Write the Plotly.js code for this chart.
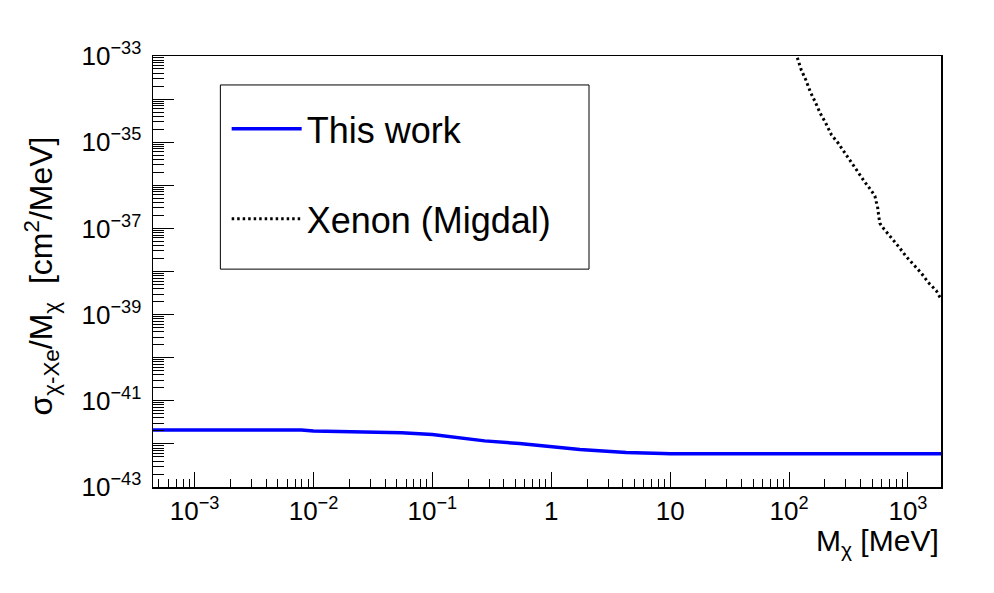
<!DOCTYPE html>
<html>
<head>
<meta charset="utf-8">
<script src="https://cdn.plot.ly/plotly-3.0.1.min.js"></script>
<style>html,body{margin:0;padding:0;background:#fff;}#chart{width:994px;height:593px;}</style>
</head>
<body>
<div id="chart"></div>
<script>
// This work
const thisWorkMass = [4.47e-4, 7.9e-3, 0.01, 0.0316, 0.055, 0.1, 0.17, 0.275, 0.54, 0.85, 1.74, 3.16, 4.27, 8.7, 10, 100, 1000, 2000];
const thisWorkSigma = [2.1e-42, 2.1e-42, 2.0e-42, 1.905e-42, 1.82e-42, 1.66e-42, 1.41e-42, 1.175e-42, 1.02e-42, 9.1e-43, 7.4e-43, 6.7e-43, 6.3e-43, 6.0e-43, 5.9e-43, 5.9e-43, 5.9e-43, 5.9e-43];

// Xenon (Migdal)
const xenonMass = [110, 116.4, 126.7, 138.4, 150.7, 167, 182.9, 203.8, 227.6, 259.3, 294.6, 342, 384, 431, 482, 527, 541, 555, 566, 580, 627, 724, 834, 968, 1109, 1295, 1483, 1730, 1845, 2000];
const xenonSigma = [1.6e-33, 9.3e-34, 4.73e-34, 2.78e-34, 1.49e-34, 8.26e-35, 4.69e-35, 2.75e-35, 1.47e-35, 9.45e-36, 5.55e-36, 3.13e-36, 1.97e-36, 1.22e-36, 8.1e-37, 5.67e-37, 4.19e-37, 3.21e-37, 2.06e-37, 1.32e-37, 9.75e-38, 6.12e-38, 3.79e-38, 2.22e-38, 1.43e-38, 9.16e-39, 5.55e-39, 3.61e-39, 2.62e-39, 2.0e-39];

// Tick labels
const xTickVals = [1e-3, 1e-2, 1e-1, 1, 10, 100, 1000];
const xTickText = ['10<sup>\u22123</sup>', '10<sup>\u22122</sup>', '10<sup>\u22121</sup>', '1', '10', '10<sup>2</sup>', '10<sup>3</sup>'];
const yTickVals = [1e-43, 1e-42, 1e-41, 1e-40, 1e-39, 1e-38, 1e-37, 1e-36, 1e-35, 1e-34, 1e-33];
const yTickText = ['10<sup>\u221243</sup>', '', '10<sup>\u221241</sup>', '', '10<sup>\u221239</sup>', '', '10<sup>\u221237</sup>', '', '10<sup>\u221235</sup>', '', '10<sup>\u221233</sup>'];

const FONT = '"Liberation Sans", Arial, Helvetica, sans-serif';

const traces = [
  {
    x: thisWorkMass, y: thisWorkSigma, type: 'scatter', mode: 'lines',
    name: 'This work', legendgroup: 'a',
    line: {color: '#0000ff', width: 3.5}
  },
  {
    x: xenonMass, y: xenonSigma, type: 'scatter', mode: 'lines',
    name: 'Xenon (Migdal)', legendgroup: 'b',
    line: {color: '#000000', width: 3, dash: '2.5px,3px'}
  }
];

const layout = {
  width: 994, height: 593,
  margin: {l: 153, r: 53, t: 56, b: 106},
  paper_bgcolor: '#ffffff', plot_bgcolor: '#ffffff',
  font: {family: FONT, color: '#000000', size: 26},
  showlegend: true,
  legend: {
    x: 0.0935, y: 0.9003, xanchor: 'left', yanchor: 'top',
    bgcolor: 'rgba(0,0,0,0)', borderwidth: 0,
    font: {family: FONT, size: 36, color: '#000000'},
    itemwidth: 70, traceorder: 'grouped', tracegroupgap: 40
  },
  shapes: [
    {
      type: 'rect', xref: 'paper', yref: 'paper',
      x0: 0.0855, x1: 0.5533, y0: 0.5055, y1: 0.9328,
      line: {color: '#000000', width: 1}, fillcolor: '#ffffff', layer: 'below'
    }
  ],
  xaxis: {
    type: 'log', range: [-3.35, 3.278],
    tickmode: 'array', tickvals: xTickVals, ticktext: xTickText,
    ticks: 'inside', ticklen: 15, tickwidth: 1, tickcolor: '#000',
    minor: {ticks: 'inside', ticklen: 8, tickwidth: 1, tickcolor: '#000', dtick: 'D1', showgrid: false},
    showline: true, linecolor: '#000', linewidth: 1.5, mirror: true,
    showgrid: false, zeroline: false,
    tickfont: {family: FONT, size: 26, color: '#000'}
  },
  yaxis: {
    type: 'log', range: [-43, -33],
    tickmode: 'array', tickvals: yTickVals, ticktext: yTickText,
    ticks: 'inside', ticklen: 21, tickwidth: 1, tickcolor: '#000',
    minor: {ticks: 'inside', ticklen: 11, tickwidth: 1, tickcolor: '#000', dtick: 'D1', showgrid: false},
    showline: true, linecolor: '#000', linewidth: 1.5, mirror: true,
    showgrid: false, zeroline: false, ticklabelstandoff: 5,
    tickfont: {family: FONT, size: 26, color: '#000'}
  },
  annotations: [
    {
      xref: 'paper', yref: 'paper', x: 1, y: -0.129, xanchor: 'right', yanchor: 'middle',
      text: 'M<sub>\u03c7</sub> [MeV]', showarrow: false,
      font: {family: FONT, size: 30, color: '#000'}
    },
    {
      xref: 'paper', yref: 'paper', x: -0.1412, y: 0.49, xanchor: 'center', yanchor: 'middle',
      textangle: -90,
      text: '\u03c3<sub>\u03c7-Xe</sub>/M<sub>\u03c7</sub>\u00a0\u00a0[cm<sup>2</sup>/MeV]', showarrow: false,
      font: {family: FONT, size: 32, color: '#000'}
    }
  ]
};

Plotly.newPlot('chart', traces, layout, {staticPlot: true, displayModeBar: false});
</script>
</body>
</html>
